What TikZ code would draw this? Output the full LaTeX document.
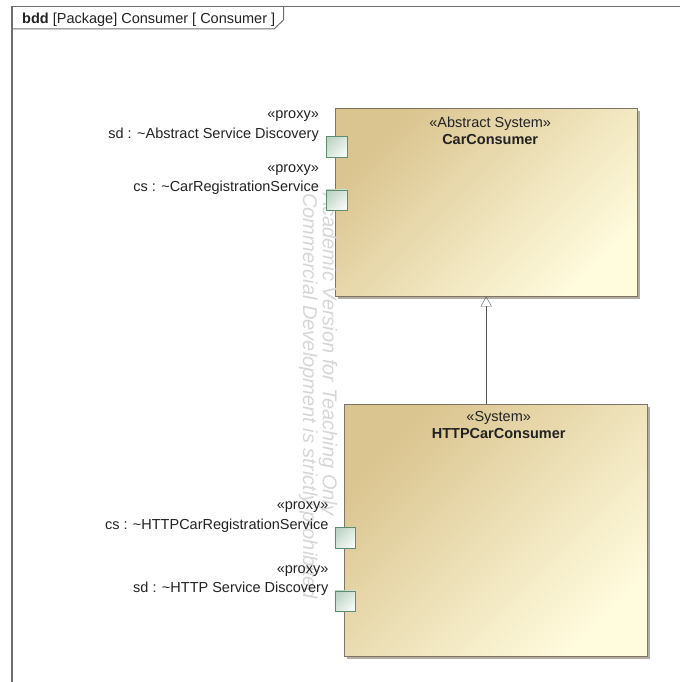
\documentclass[tikz,border=0pt]{standalone}
\usepackage{fontspec}
\setmainfont{Liberation Sans}
\usetikzlibrary{arrows.meta,positioning,shadows}
\definecolor{frameline}{HTML}{6E6E6E}
\definecolor{genline}{HTML}{555555}
\definecolor{blockdark}{HTML}{DAC48F}
\definecolor{blocklight}{HTML}{FFFBDD}
\definecolor{blockline}{HTML}{7E7564}
\definecolor{blockshadow}{HTML}{B2AEA6}
\definecolor{portdark}{HTML}{BFD4C7}
\definecolor{portlight}{HTML}{F4F9F5}
\definecolor{portline}{HTML}{5E8C6E}
\definecolor{textgray}{HTML}{222222}
\definecolor{wmgray}{HTML}{D6D6D6}
\newcommand{\umlfont}{\fontsize{14.5}{17}\selectfont}

\tikzset{
  block/.style={draw=blockline, top color=blockdark, bottom color=blocklight,
    shading angle=45, anchor=north west, inner sep=0pt,
    drop shadow={shadow xshift=3pt, shadow yshift=-3pt, fill=blockshadow, opacity=1}},
  port/.style={draw=portline, top color=portdark, bottom color=portlight,
    shading angle=45, minimum size=20.5pt, inner sep=0pt},
  portlabel/.style={align=right, anchor=south east, inner sep=0pt, text=textgray,
    font=\fontsize{14.5}{19.5}\selectfont},
  blocktitle/.style={align=center, anchor=north, inner sep=0pt, text=textgray, font=\umlfont},
  gen/.style={draw=genline, -{Triangle[open, length=10pt, width=11pt]}},
}

\begin{document}
\begin{tikzpicture}[x=1pt, y=-1pt]
    \useasboundingbox (0,0) rectangle (680,682);
    % diagram frame
    \draw[frameline, line width=1.8pt] (12,682) -- (12,6.5) -- (680,6.5);
    \draw[frameline, line width=1pt] (12,29) -- (274,29) -- (283.5,20) -- (283.5,6.5);
    \node[anchor=base west, inner sep=0pt, text=textgray, font=\umlfont] (title) at (22,24)
        {\textbf{bdd} [Package] Consumer [ Consumer ]};
    % blocks
    \node[block, minimum width=302pt, minimum height=188pt] (car) at (335,108) {};
    \node[blocktitle] (cartitle) at ([xshift=4pt, yshift=-8.5pt]car.north)
        {«Abstract System»\\\textbf{CarConsumer}};
    \node[block, minimum width=303pt, minimum height=252pt] (http) at (344,404) {};
    \node[blocktitle] (httptitle) at ([xshift=3pt, yshift=-7.5pt]http.north)
        {«System»\\\textbf{HTTPCarConsumer}};
    \draw[gen] (http.north -| car.south) -- (car.south);
    % watermark
    \node[rotate=-90, anchor=north west, align=left, inner sep=0pt, text=wmgray,
        font=\itshape\fontsize{20}{18.5}\selectfont] (wm) at (337.5,193)
        {Academic Version for Teaching Only\\Commercial Development is strictly prohibited};
    % proxy ports
    \node[port] (sdA) at (336.5,146.5) {};
    \node[port] (csA) at (336.5,200) {};
    \node[port] (csH) at (345,537.5) {};
    \node[port] (sdH) at (345,601) {};
    \node[portlabel] (sdAlabel) at ([xshift=-7pt, yshift=-5.5pt]sdA.north west)
        {«proxy»\\sd : \textasciitilde Abstract Service Discovery};
    \node[portlabel] (csAlabel) at ([xshift=-7pt, yshift=-5.5pt]csA.north west)
        {«proxy»\\cs : \textasciitilde CarRegistrationService};
    \node[portlabel] (csHlabel) at ([xshift=-6pt, yshift=-5.5pt]csH.north west)
        {«proxy»\\cs : \textasciitilde HTTPCarRegistrationService};
    \node[portlabel] (sdHlabel) at ([xshift=-6pt, yshift=-5.5pt]sdH.north west)
        {«proxy»\\sd : \textasciitilde HTTP Service Discovery};
\end{tikzpicture}
\end{document}
